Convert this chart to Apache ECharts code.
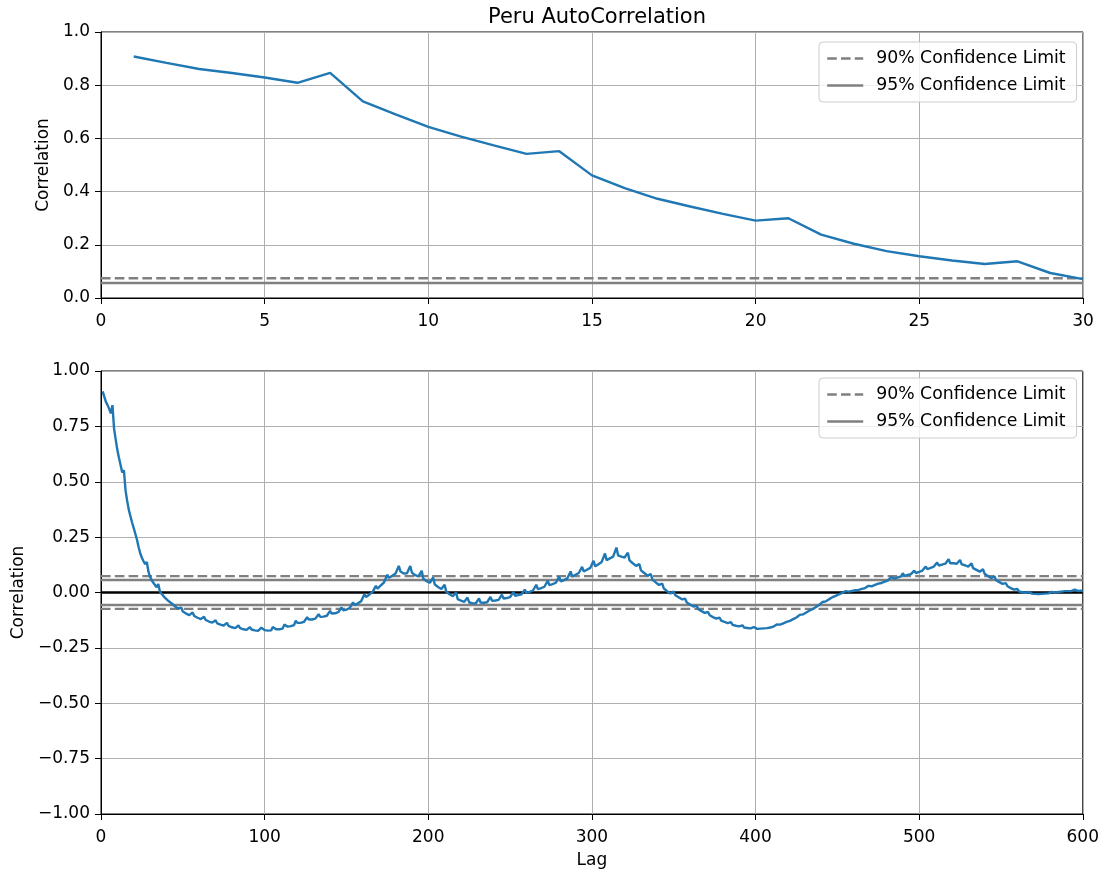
<!DOCTYPE html>
<html>
<head>
<meta charset="utf-8">
<script src="https://cdn.jsdelivr.net/npm/echarts@6/dist/echarts.min.js"></script>
<style>
  html, body { margin: 0; padding: 0; background: #ffffff; }
  #chart { width: 1102px; height: 876px; }
</style>
</head>
<body>
<div id="chart"></div>
<script>
// ---- data -------------------------------------------------------------
const titleText = 'Peru AutoCorrelation';
const legendNames = ['90% Confidence Limit', '95% Confidence Limit'];
const limit90 = 0.0740;   // dashed band
const limit95 = 0.0563;   // solid band
const shortLagCount = 30; // lags shown in the upper panel

const topXTicks = [0, 5, 10, 15, 20, 25, 30];
const topYTickValues = [0, 0.2, 0.4, 0.6, 0.8, 1.0];
const topYTickLabels = ['0.0', '0.2', '0.4', '0.6', '0.8', '1.0'];
const bottomXTicks = [0, 100, 200, 300, 400, 500, 600];
const bottomYTickValues = [-1, -0.75, -0.5, -0.25, 0, 0.25, 0.5, 0.75, 1];
const bottomYTickLabels = ['\u22121.00', '\u22120.75', '\u22120.50', '\u22120.25', '0.00', '0.25', '0.50', '0.75', '1.00'];

// autocorrelation for lags 1..600 (one row per week of lags)
const acf = [
  .908,.884,.861,.846,.829,.809,.846,
  .739,.690,.643,.607,.574,.542,.552,
  .461,.413,.373,.344,.316,.291,.300,
  .238,.204,.176,.157,.141,.128,.138,
  .094,.071,.055,.044,.034,.024,.038,
  .004,-.006,-.015,-.023,-.030,-.037,-.028,
  -.048,-.055,-.061,-.067,-.072,-.077,-.068,
  -.086,-.091,-.095,-.099,-.102,-.105,-.090,
  -.106,-.110,-.114,-.117,-.120,-.122,-.110,
  -.124,-.128,-.131,-.134,-.136,-.138,-.125,
  -.139,-.142,-.145,-.147,-.149,-.151,-.137,
  -.151,-.154,-.157,-.159,-.161,-.162,-.149,
  -.161,-.164,-.166,-.168,-.169,-.170,-.156,
  -.167,-.169,-.171,-.172,-.173,-.173,-.159,
  -.168,-.170,-.171,-.172,-.172,-.171,-.156,
  -.164,-.166,-.166,-.166,-.165,-.163,-.145,
  -.153,-.154,-.153,-.152,-.150,-.147,-.127,
  -.137,-.138,-.137,-.135,-.133,-.130,-.112,
  -.122,-.123,-.122,-.120,-.118,-.116,-.098,
  -.110,-.110,-.109,-.107,-.105,-.102,-.083,
  -.095,-.095,-.094,-.092,-.089,-.086,-.068,
  -.080,-.079,-.077,-.074,-.070,-.066,-.045,
  -.056,-.053,-.049,-.044,-.039,-.033,-.008,
  -.020,-.015,-.009,-.003,.003,.009,.030,
  .018,.025,.032,.039,.046,.053,.080,
  .066,.071,.076,.081,.086,.091,.120,
  .095,.089,.086,.085,.087,.090,.120,
  .090,.083,.078,.075,.073,.073,.098,
  .062,.056,.051,.047,.044,.042,.068,
  .036,.030,.025,.020,.016,.013,.035,
  .003,-.003,-.008,-.013,-.017,-.020,.000,
  -.030,-.034,-.037,-.040,-.042,-.043,-.023,
  -.045,-.047,-.048,-.049,-.049,-.048,-.027,
  -.045,-.046,-.046,-.045,-.044,-.042,-.020,
  -.037,-.037,-.036,-.035,-.033,-.031,-.010,
  -.027,-.026,-.025,-.023,-.021,-.019,.002,
  -.015,-.014,-.012,-.010,-.008,-.005,.013,
  -.002,.000,.003,.006,.009,.012,.035,
  .015,.017,.020,.023,.026,.029,.053,
  .033,.035,.038,.041,.044,.047,.072,
  .050,.053,.056,.060,.064,.068,.095,
  .072,.076,.080,.084,.088,.092,.116,
  .095,.099,.103,.107,.111,.115,.143,
  .118,.123,.128,.133,.138,.143,.176,
  .146,.150,.154,.158,.162,.166,.203,
  .168,.165,.162,.160,.158,.157,.180,
  .145,.138,.132,.126,.120,.114,.128,
  .100,.094,.088,.082,.076,.070,.083,
  .058,.052,.046,.040,.034,.028,.040,
  .018,.012,.006,.000,-.005,-.010,.005,
  -.012,-.017,-.021,-.026,-.031,-.036,-.028,
  -.045,-.050,-.054,-.059,-.063,-.068,-.060,
  -.075,-.079,-.084,-.088,-.092,-.096,-.088,
  -.103,-.107,-.111,-.114,-.118,-.121,-.113,
  -.127,-.130,-.133,-.136,-.138,-.141,-.134,
  -.146,-.148,-.150,-.152,-.153,-.155,-.148,
  -.158,-.159,-.160,-.161,-.162,-.163,-.156,
  -.164,-.164,-.164,-.163,-.163,-.162,-.155,
  -.161,-.160,-.158,-.156,-.154,-.152,-.144,
  -.148,-.145,-.142,-.139,-.136,-.133,-.125,
  -.128,-.124,-.120,-.117,-.113,-.109,-.101,
  -.104,-.099,-.095,-.090,-.086,-.081,-.073,
  -.075,-.070,-.065,-.060,-.055,-.050,-.043,
  -.045,-.040,-.035,-.030,-.025,-.021,-.014,
  -.015,-.011,-.008,-.005,-.002,.000,.006,
  .003,.004,.006,.007,.009,.010,.017,
  .012,.014,.016,.018,.020,.022,.030,
  .025,.028,.031,.034,.037,.040,.048,
  .043,.046,.049,.052,.055,.058,.070,
  .061,.063,.066,.068,.071,.073,.087,
  .075,.077,.079,.081,.083,.085,.099,
  .088,.090,.093,.096,.099,.102,.117,
  .105,.108,.111,.114,.117,.120,.135,
  .122,.124,.126,.128,.130,.132,.150,
  .132,.132,.132,.131,.130,.129,.147,
  .127,.125,.123,.120,.117,.114,.131,
  .110,.106,.102,.098,.094,.090,.105,
  .085,.080,.075,.070,.065,.060,.073,
  .055,.051,.047,.043,.039,.035,.042,
  .028,.024,.020,.016,.013,.010,.016,
  .005,.003,.001,-.001,-.002,-.003,.003,
  -.004,-.005,-.006,-.006,-.007,-.007,-.001,
  -.006,-.006,-.005,-.005,-.004,-.003,.003,
  -.001,.000,.001,.002,.003,.004,.012,
  .006,.006,.006,.006,.006,.006,.013,
  .007,.007,.007,.008,.008
];

// ---- styling helpers ----------------------------------------------------
const FONT = 'DejaVu Sans';
const BLUE = '#1f77b4';
const GREY = '#808080';
const DASH = [9.6, 4.2];
const LW = 2.4;

const acfPairs = acf.map((v, i) => [i + 1, v]);
const topPairs = acfPairs.slice(0, shortLagCount);

function lookupLabel(values, labels) {
  return function (v) {
    for (let i = 0; i < values.length; i++) {
      if (Math.abs(values[i] - v) < 1e-6) return labels[i];
    }
    return '';
  };
}

function xAxisFor(gridIndex, ticks, extra) {
  return Object.assign({
    gridIndex: gridIndex,
    type: 'value',
    min: ticks[0],
    max: ticks[ticks.length - 1],
    interval: ticks[1] - ticks[0],
    axisLine: { onZero: false, lineStyle: { color: '#000', width: 1 } },
    axisTick: { show: true, length: 6, lineStyle: { color: '#000', width: 1 } },
    axisLabel: { margin: 15, fontSize: 17, color: '#000', fontFamily: FONT },
    splitLine: { show: true, lineStyle: { color: '#b0b0b0', width: 1 } }
  }, extra || {});
}

function yAxisFor(gridIndex, values, labels, nameGap) {
  return {
    gridIndex: gridIndex,
    type: 'value',
    min: values[0],
    max: values[values.length - 1],
    interval: values[1] - values[0],
    name: 'Correlation',
    nameLocation: 'middle',
    nameGap: nameGap,
    nameTextStyle: { fontSize: 17, color: '#000', fontFamily: FONT },
    axisLine: { show: true, onZero: false, lineStyle: { color: '#000', width: 1 } },
    axisTick: { show: true, length: 6, lineStyle: { color: '#000', width: 1 } },
    axisLabel: { margin: 11, fontSize: 17, color: '#000', fontFamily: FONT,
                 formatter: lookupLabel(values, labels) },
    splitLine: { show: true, lineStyle: { color: '#b0b0b0', width: 1 } }
  };
}

function hline(name, idx, y, xmax, dashed, color, width) {
  return {
    name: name,
    type: 'line',
    xAxisIndex: idx,
    yAxisIndex: idx,
    data: [[0, y], [xmax, y]],
    symbol: 'none',
    silent: true,
    lineStyle: { color: color, width: width, type: dashed ? DASH : 'solid' },
    itemStyle: { color: color },
    z: 2
  };
}

function legendAt(top) {
  return {
    data: legendNames,
    orient: 'vertical',
    left: 819,
    top: top,
    padding: [8, 11, 8, 7],
    itemWidth: 36,
    itemHeight: 20,
    itemGap: 10,
    backgroundColor: 'rgba(255,255,255,0.8)',
    borderColor: '#cccccc',
    borderWidth: 1,
    borderRadius: 4,
    selectedMode: false,
    itemStyle: { opacity: 0 },
    lineStyle: { width: LW },
    textStyle: { fontSize: 17.3, color: '#000', fontFamily: FONT, padding: [0, 0, 0, 8] }
  };
}

const chart = echarts.init(document.getElementById('chart'), null, { renderer: 'canvas' });

chart.setOption({
  animation: false,
  backgroundColor: '#ffffff',
  title: {
    text: titleText,
    left: 592,
    top: 2,
    textAlign: 'center',
    textStyle: { fontSize: 21, fontWeight: 'normal', color: '#000', fontFamily: FONT }
  },
  legend: [legendAt(42), legendAt(378)],
  grid: [
    { left: 101, top: 32, width: 982, height: 266, show: true, borderColor: '#000', borderWidth: 1 },
    { left: 101, top: 371, width: 982, height: 443, show: true, borderColor: '#000', borderWidth: 1 }
  ],
  xAxis: [
    xAxisFor(0, topXTicks),
    xAxisFor(1, bottomXTicks, {
      name: 'Lag', nameLocation: 'middle', nameGap: 38,
      nameTextStyle: { fontSize: 17, color: '#000', fontFamily: FONT }
    })
  ],
  yAxis: [
    yAxisFor(0, topYTickValues, topYTickLabels, 47),
    yAxisFor(1, bottomYTickValues, bottomYTickLabels, 72)
  ],
  series: [
    hline(legendNames[0], 0, limit90, topXTicks[topXTicks.length - 1], true, GREY, LW),
    hline(legendNames[1], 0, limit95, topXTicks[topXTicks.length - 1], false, GREY, LW),
    {
      name: 'acf-short', type: 'line', xAxisIndex: 0, yAxisIndex: 0,
      data: topPairs, symbol: 'none', lineStyle: { color: BLUE, width: LW }, z: 3
    },
    hline(legendNames[0], 1, limit90, bottomXTicks[bottomXTicks.length - 1], true, GREY, LW),
    hline(legendNames[1], 1, limit95, bottomXTicks[bottomXTicks.length - 1], false, GREY, LW),
    hline('zero', 1, 0, bottomXTicks[bottomXTicks.length - 1], false, '#000', LW),
    hline(legendNames[1], 1, -limit95, bottomXTicks[bottomXTicks.length - 1], false, GREY, LW),
    hline(legendNames[0], 1, -limit90, bottomXTicks[bottomXTicks.length - 1], true, GREY, LW),
    {
      name: 'acf-long', type: 'line', xAxisIndex: 1, yAxisIndex: 1,
      data: acfPairs, symbol: 'none', sampling: null,
      lineStyle: { color: BLUE, width: LW }, z: 3
    }
  ]
});
</script>
</body>
</html>
